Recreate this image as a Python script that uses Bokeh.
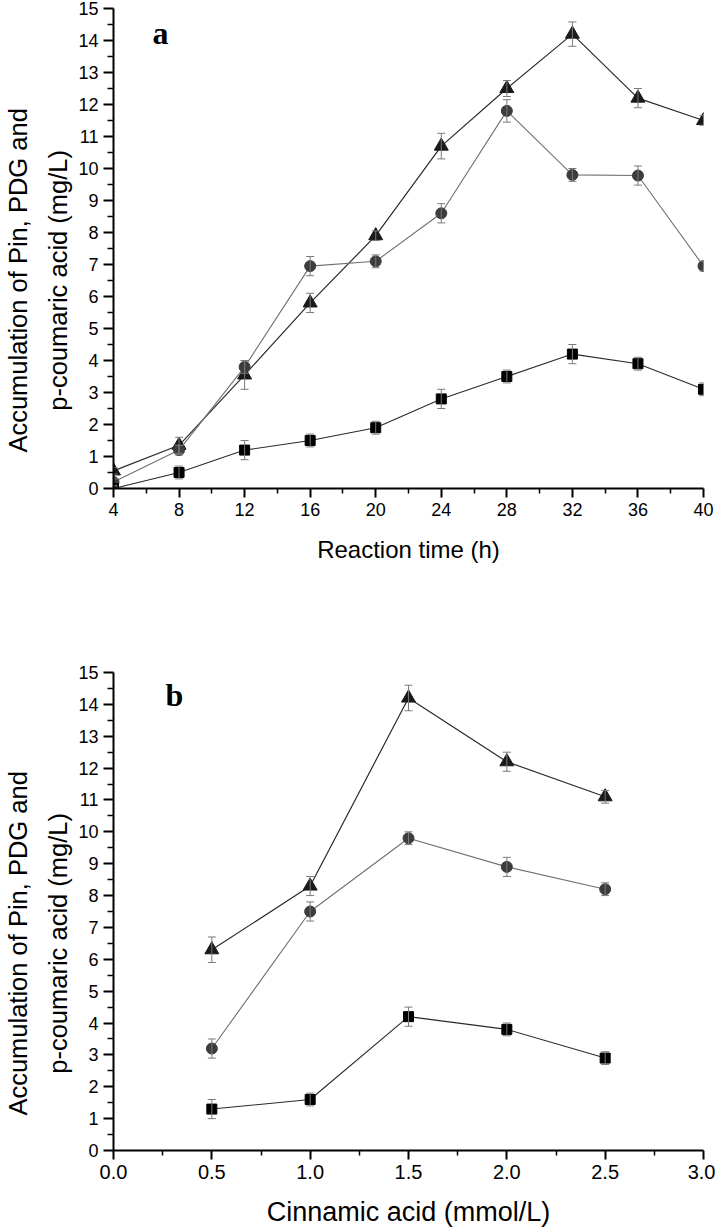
from bokeh.plotting import figure
from bokeh.layouts import column
from bokeh.models import ColumnDataSource, Whisker, TeeHead, FixedTicker, Label, Range1d
from bokeh.embed import file_html
from bokeh.resources import INLINE

# ---------------- data: panel a (reaction time) ----------------
time_h = [4, 8, 12, 16, 20, 24, 28, 32, 36, 40]
a_sq = [0.0, 0.5, 1.2, 1.5, 1.9, 2.8, 3.5, 4.2, 3.9, 3.1]
a_sq_err = [0.05, 0.2, 0.3, 0.2, 0.2, 0.3, 0.2, 0.3, 0.2, 0.2]
a_ci = [0.2, 1.2, 3.8, 6.95, 7.1, 8.6, 11.8, 9.8, 9.78, 6.95]
a_ci_err = [0.1, 0.15, 0.2, 0.3, 0.2, 0.3, 0.35, 0.2, 0.3, 0.15]
a_tr = [0.55, 1.35, 3.55, 5.8, 7.9, 10.7, 12.5, 14.2, 12.2, 11.5]
a_tr_err = [0.1, 0.25, 0.45, 0.3, 0.15, 0.4, 0.25, 0.38, 0.3, 0.15]
a_xticks = [4, 8, 12, 16, 20, 24, 28, 32, 36, 40]

# ---------------- data: panel b (cinnamic acid) ----------------
cin = [0.5, 1.0, 1.5, 2.0, 2.5]
b_sq = [1.3, 1.6, 4.2, 3.8, 2.9]
b_sq_err = [0.3, 0.2, 0.3, 0.2, 0.2]
b_ci = [3.2, 7.5, 9.8, 8.9, 8.2]
b_ci_err = [0.3, 0.3, 0.2, 0.3, 0.2]
b_tr = [6.3, 8.3, 14.2, 12.2, 11.1]
b_tr_err = [0.4, 0.3, 0.4, 0.3, 0.2]
b_xticks = [0.0, 0.5, 1.0, 1.5, 2.0, 2.5, 3.0]
b_xtick_labels = ["0.0", "0.5", "1.0", "1.5", "2.0", "2.5", "3.0"]

y_ticks = list(range(0, 16))
PAD = "\u00a0" * 9
y_label = "Accumulation of Pin, PDG and" + PAD + "\np-coumaric acid (mg/L)" + PAD

FONT = "Liberation Sans"
ERR = "#7a7a7a"


def add_series(p, x, y, err, marker, size, fill, line_color, line_width):
    src = ColumnDataSource(dict(x=x, y=y,
                                lo=[v - e for v, e in zip(y, err)],
                                hi=[v + e for v, e in zip(y, err)]))
    p.line("x", "y", source=src, line_color=line_color, line_width=line_width)
    w = Whisker(base="x", upper="hi", lower="lo", source=src,
                line_color=ERR, line_width=1,
                upper_head=TeeHead(size=8, line_color=ERR, line_width=1),
                lower_head=TeeHead(size=8, line_color=ERR, line_width=1),
                level="glyph")
    p.add_layout(w)
    p.scatter("x", "y", source=src, marker=marker, size=size,
              fill_color=fill, line_color=fill)


def style_axes(p, xfs, yfs, xlabfs):
    for ax in (p.xaxis[0], p.yaxis[0]):
        ax.axis_line_width = 2
        ax.axis_line_color = "black"
        ax.major_tick_line_width = 2
        ax.minor_tick_line_width = 1.5
        ax.major_tick_in = 0
        ax.minor_tick_in = 0
        ax.major_label_text_font = FONT
        ax.axis_label_text_font = FONT
        ax.axis_label_text_font_style = "normal"
        ax.major_label_text_color = "black"
        ax.axis_label_text_color = "black"
        ax.major_label_standoff = 5
    p.xaxis.major_tick_out = 9
    p.xaxis.minor_tick_out = 5
    p.yaxis.major_tick_out = 10
    p.yaxis.minor_tick_out = 6
    p.xaxis.major_label_text_font_size = f"{xfs}px"
    p.yaxis.major_label_text_font_size = f"{yfs}px"
    p.xaxis.axis_label_text_font_size = f"{xlabfs}px"
    p.xaxis.axis_label_text_line_height = 1.0
    p.yaxis.axis_label_text_font_size = "25.5px"
    p.yaxis.axis_label_text_line_height = 1.45
    p.yaxis.axis_label_standoff = 3
    p.yaxis.axis_label = y_label
    p.grid.visible = False
    p.outline_line_color = None


# ---------------- panel a ----------------
pa = figure(width=715, height=600, output_backend="svg", toolbar_location=None,
            x_range=Range1d(4, 40), y_range=Range1d(0, 15),
            min_border_left=113, min_border_right=12,
            min_border_top=8, min_border_bottom=112)
add_series(pa, time_h, a_tr, a_tr_err, "triangle", 14, "#1a1a1a", "#2a2a2a", 1.2)
add_series(pa, time_h, a_ci, a_ci_err, "circle", 11, "#3d3d3d", "#707070", 1.1)
add_series(pa, time_h, a_sq, a_sq_err, "square", 10, "#000000", "#2a2a2a", 1.1)
style_axes(pa, 18, 18, 24)
pa.xaxis.ticker = FixedTicker(ticks=a_xticks, minor_ticks=[v + 2 for v in a_xticks[:-1]])
pa.yaxis.ticker = FixedTicker(ticks=y_ticks, minor_ticks=[v + 0.5 for v in y_ticks[:-1]])
pa.xaxis.axis_label = "Reaction time (h)"
pa.xaxis.axis_label_standoff = 17
pa.add_layout(Label(x=6.38, y=14.25, text="a", text_font="Liberation Serif",
                    text_font_style="bold", text_font_size="32px", text_color="black",
                    text_baseline="alphabetic"))

# ---------------- panel b ----------------
pb = figure(width=715, height=629, output_backend="svg", toolbar_location=None,
            x_range=Range1d(0, 3), y_range=Range1d(0, 15),
            min_border_left=113, min_border_right=12,
            min_border_top=72, min_border_bottom=77)
add_series(pb, cin, b_tr, b_tr_err, "triangle", 14, "#1a1a1a", "#2a2a2a", 1.2)
add_series(pb, cin, b_ci, b_ci_err, "circle", 11, "#3d3d3d", "#707070", 1.1)
add_series(pb, cin, b_sq, b_sq_err, "square", 10, "#000000", "#2a2a2a", 1.1)
style_axes(pb, 20, 18, 27)
pb.xaxis.ticker = FixedTicker(ticks=b_xticks, minor_ticks=[v + 0.25 for v in b_xticks[:-1]])
pb.xaxis.major_label_overrides = {v: s for v, s in zip(b_xticks, b_xtick_labels)}
pb.yaxis.ticker = FixedTicker(ticks=y_ticks, minor_ticks=[v + 0.5 for v in y_ticks[:-1]])
pb.xaxis.axis_label = "Cinnamic acid (mmol/L)"
pb.xaxis.axis_label_standoff = 15
pb.add_layout(Label(x=0.264, y=14.28, text="b", text_font="Liberation Serif",
                    text_font_style="bold", text_font_size="32px", text_color="black",
                    text_baseline="alphabetic"))

layout = column(pa, pb)
open("out.html", "w").write(file_html(layout, INLINE))
